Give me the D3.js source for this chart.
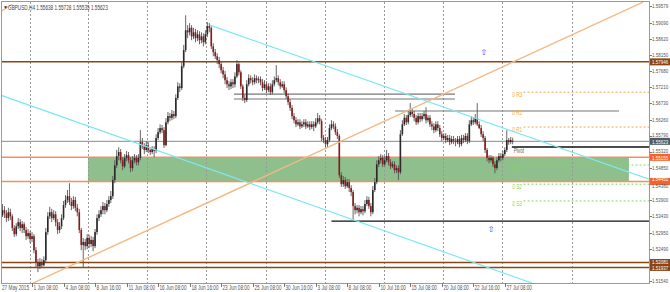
<!DOCTYPE html>
<html>
<head>
<meta charset="utf-8">
<script src="https://cdn.jsdelivr.net/npm/d3@7"></script>
<style>
  body { margin: 0; background: #fff; }
  svg { display: block; font-family: "Liberation Sans", Arial, sans-serif; }
</style>
</head>
<body>
<div id="viz"></div>
<script>
// GBPUSD H4 candles, bar 0 = 27 May 2015
var opens = [1.5355,
  1.5346,1.5361,1.5352,1.5338,1.5355,1.5343,1.5309,1.5291,1.5314,1.5326,
  1.5309,1.5320,1.5303,1.5285,1.5294,1.5277,1.5285,1.5244,1.5209,1.5197,
  1.5209,1.5200,1.5215,1.5297,1.5343,1.5355,1.5338,1.5349,1.5326,1.5303,
  1.5314,1.5338,1.5376,1.5391,1.5402,1.5385,1.5373,1.5391,1.5368,1.5355,
  1.5303,1.5259,1.5268,1.5256,1.5280,1.5262,1.5274,1.5256,1.5297,1.5338,
  1.5349,1.5361,1.5373,1.5361,1.5379,1.5391,1.5402,1.5449,1.5492,1.5519,
  1.5531,1.5507,1.5489,1.5514,1.5522,1.5507,1.5484,1.5507,1.5514,1.5501,
  1.5514,1.5560,1.5548,1.5537,1.5551,1.5537,1.5531,1.5540,1.5534,1.5572,
  1.5589,1.5601,1.5595,1.5551,1.5618,1.5636,1.5631,1.5642,1.5636,1.5689,
  1.5723,1.5718,1.5782,1.5829,1.5887,1.5881,1.5894,1.5869,1.5881,1.5864,
  1.5875,1.5858,1.5869,1.5852,1.5875,1.5899,1.5894,1.5840,1.5823,1.5811,
  1.5800,1.5788,1.5770,1.5758,1.5741,1.5729,1.5723,1.5735,1.5729,1.5752,
  1.5788,1.5764,1.5723,1.5689,1.5683,1.5729,1.5747,1.5741,1.5735,1.5747,
  1.5741,1.5744,1.5735,1.5718,1.5729,1.5712,1.5723,1.5706,1.5729,1.5741,
  1.5747,1.5735,1.5723,1.5729,1.5712,1.5694,1.5677,1.5660,1.5636,1.5624,
  1.5612,1.5618,1.5606,1.5612,1.5618,1.5606,1.5612,1.5604,1.5612,1.5606,
  1.5618,1.5630,1.5621,1.5572,1.5566,1.5554,1.5566,1.5601,1.5612,1.5606,
  1.5589,1.5578,1.5463,1.5437,1.5449,1.5431,1.5443,1.5426,1.5414,1.5373,
  1.5361,1.5368,1.5355,1.5364,1.5358,1.5379,1.5391,1.5373,1.5355,1.5420,
  1.5443,1.5495,1.5507,1.5514,1.5495,1.5507,1.5519,1.5501,1.5489,1.5495,
  1.5478,1.5484,1.5472,1.5583,1.5612,1.5631,1.5618,1.5639,1.5648,1.5642,
  1.5631,1.5618,1.5636,1.5627,1.5636,1.5642,1.5624,1.5631,1.5612,1.5606,
  1.5595,1.5612,1.5601,1.5583,1.5572,1.5578,1.5566,1.5572,1.5560,1.5569,
  1.5563,1.5560,1.5569,1.5554,1.5572,1.5566,1.5578,1.5563,1.5612,1.5624,
  1.5618,1.5630,1.5612,1.5601,1.5583,1.5572,1.5537,1.5514,1.5507,1.5514,
  1.5495,1.5484,1.5507,1.5519,1.5514,1.5525,1.5537,1.5566,1.5560,1.55638];

var highs = [
  1.5371,1.5379,1.5373,1.5361,1.5368,1.5365,1.5349,1.5317,1.5323,1.5338,
  1.5335,1.5329,1.5326,1.5312,1.5306,1.5300,1.5297,1.5291,1.5253,1.5218,
  1.5221,1.5218,1.5226,1.5309,1.5355,1.5371,1.5365,1.5361,1.5358,1.5335,
  1.5326,1.5349,1.5388,1.5405,1.5420,1.5440,1.5397,1.5402,1.5400,1.5379,
  1.5365,1.5309,1.5280,1.5277,1.5291,1.5289,1.5285,1.5283,1.5306,1.5349,
  1.5361,1.5373,1.5385,1.5382,1.5391,1.5402,1.5417,1.5461,1.5507,1.5537,
  1.5545,1.5540,1.5516,1.5525,1.5534,1.5531,1.5516,1.5519,1.5525,1.5522,
  1.5525,1.5595,1.5572,1.5557,1.5563,1.5560,1.5545,1.5548,1.5548,1.5583,
  1.5601,1.5612,1.5610,1.5604,1.5630,1.5648,1.5645,1.5654,1.5651,1.5700,
  1.5735,1.5732,1.5794,1.5844,1.5931,1.5902,1.5908,1.5902,1.5894,1.5891,
  1.5887,1.5884,1.5881,1.5878,1.5887,1.5911,1.5908,1.5899,1.5849,1.5832,
  1.5820,1.5809,1.5797,1.5780,1.5768,1.5750,1.5738,1.5744,1.5744,1.5764,
  1.5800,1.5794,1.5770,1.5729,1.5698,1.5741,1.5758,1.5755,1.5750,1.5758,
  1.5755,1.5752,1.5752,1.5744,1.5741,1.5738,1.5732,1.5732,1.5741,1.5752,
  1.5785,1.5755,1.5744,1.5738,1.5738,1.5720,1.5703,1.5686,1.5668,1.5645,
  1.5633,1.5627,1.5627,1.5621,1.5627,1.5627,1.5621,1.5621,1.5621,1.5621,
  1.5630,1.5645,1.5639,1.5627,1.5581,1.5575,1.5575,1.5612,1.5624,1.5621,
  1.5615,1.5598,1.5583,1.5472,1.5461,1.5458,1.5452,1.5452,1.5434,1.5420,
  1.5382,1.5376,1.5376,1.5373,1.5373,1.5391,1.5402,1.5400,1.5382,1.5432,
  1.5455,1.5507,1.5519,1.5525,1.5522,1.5519,1.5537,1.5528,1.5510,1.5504,
  1.5504,1.5492,1.5492,1.5595,1.5624,1.5642,1.5639,1.5651,1.5674,1.5657,
  1.5651,1.5639,1.5645,1.5645,1.5645,1.5651,1.5662,1.5639,1.5639,1.5621,
  1.5615,1.5621,1.5621,1.5610,1.5592,1.5586,1.5586,1.5581,1.5581,1.5578,
  1.5578,1.5572,1.5578,1.5578,1.5581,1.5581,1.5586,1.5586,1.5624,1.5636,
  1.5633,1.5642,1.5674,1.5621,1.5610,1.5592,1.5578,1.5543,1.5522,1.5522,
  1.5519,1.5504,1.5516,1.5528,1.5528,1.5534,1.5545,1.5595,1.5572,1.5575,
  1.55728];

var lows = [
  1.5335,1.5341,1.5338,1.5326,1.5329,1.5332,1.5300,1.5283,1.5285,1.5306,
  1.5300,1.5294,1.5294,1.5274,1.5277,1.5265,1.5268,1.5235,1.5192,1.5180,
  1.5189,1.5192,1.5197,1.5209,1.5289,1.5335,1.5326,1.5332,1.5314,1.5291,
  1.5294,1.5306,1.5332,1.5368,1.5382,1.5376,1.5361,1.5365,1.5358,1.5343,
  1.5294,1.5244,1.5195,1.5244,1.5247,1.5250,1.5253,1.5241,1.5250,1.5289,
  1.5329,1.5341,1.5349,1.5349,1.5355,1.5371,1.5382,1.5394,1.5440,1.5484,
  1.5507,1.5498,1.5478,1.5484,1.5504,1.5498,1.5472,1.5475,1.5498,1.5492,
  1.5492,1.5507,1.5540,1.5525,1.5531,1.5528,1.5522,1.5525,1.5516,1.5528,
  1.5566,1.5583,1.5586,1.5543,1.5548,1.5612,1.5621,1.5624,1.5627,1.5630,
  1.5683,1.5706,1.5712,1.5776,1.5823,1.5864,1.5872,1.5858,1.5861,1.5852,
  1.5855,1.5846,1.5849,1.5840,1.5846,1.5867,1.5881,1.5832,1.5811,1.5803,
  1.5788,1.5776,1.5761,1.5747,1.5729,1.5718,1.5712,1.5715,1.5718,1.5720,
  1.5747,1.5755,1.5715,1.5680,1.5674,1.5677,1.5723,1.5732,1.5726,1.5729,
  1.5732,1.5732,1.5726,1.5709,1.5712,1.5703,1.5706,1.5698,1.5700,1.5723,
  1.5735,1.5726,1.5715,1.5718,1.5703,1.5686,1.5668,1.5651,1.5627,1.5615,
  1.5604,1.5607,1.5598,1.5601,1.5604,1.5598,1.5601,1.5595,1.5598,1.5592,
  1.5601,1.5612,1.5612,1.5563,1.5557,1.5545,1.5545,1.5560,1.5595,1.5598,
  1.5581,1.5569,1.5455,1.5429,1.5429,1.5423,1.5426,1.5414,1.5402,1.5332,
  1.5349,1.5352,1.5343,1.5349,1.5346,1.5352,1.5373,1.5365,1.5343,1.5349,
  1.5414,1.5437,1.5487,1.5498,1.5487,1.5489,1.5501,1.5492,1.5481,1.5484,
  1.5469,1.5469,1.5449,1.5466,1.5578,1.5607,1.5610,1.5612,1.5633,1.5633,
  1.5621,1.5610,1.5612,1.5618,1.5621,1.5627,1.5615,1.5618,1.5604,1.5595,
  1.5586,1.5589,1.5592,1.5575,1.5563,1.5566,1.5557,1.5560,1.5551,1.5554,
  1.5554,1.5548,1.5554,1.5545,1.5548,1.5557,1.5560,1.5554,1.5557,1.5607,
  1.5610,1.5612,1.5607,1.5598,1.5575,1.5563,1.5528,1.5504,1.5498,1.5501,
  1.5487,1.5469,1.5478,1.5501,1.5504,1.5507,1.5519,1.5531,1.5552,1.5554,
  1.55535];

var closes = [
  1.5346,1.5361,1.5352,1.5338,1.5355,1.5343,1.5309,1.5291,1.5314,1.5326,
  1.5309,1.5320,1.5303,1.5285,1.5294,1.5277,1.5285,1.5244,1.5209,1.5197,
  1.5209,1.5200,1.5215,1.5297,1.5343,1.5355,1.5338,1.5349,1.5326,1.5303,
  1.5314,1.5338,1.5376,1.5391,1.5402,1.5385,1.5373,1.5391,1.5368,1.5355,
  1.5303,1.5259,1.5268,1.5256,1.5280,1.5262,1.5274,1.5256,1.5297,1.5338,
  1.5349,1.5361,1.5373,1.5361,1.5379,1.5391,1.5402,1.5449,1.5492,1.5519,
  1.5531,1.5507,1.5489,1.5514,1.5522,1.5507,1.5484,1.5507,1.5514,1.5501,
  1.5514,1.5560,1.5548,1.5537,1.5551,1.5537,1.5531,1.5540,1.5534,1.5572,
  1.5589,1.5601,1.5595,1.5551,1.5618,1.5636,1.5631,1.5642,1.5636,1.5689,
  1.5723,1.5718,1.5782,1.5829,1.5887,1.5881,1.5894,1.5869,1.5881,1.5864,
  1.5875,1.5858,1.5869,1.5852,1.5875,1.5899,1.5894,1.5840,1.5823,1.5811,
  1.5800,1.5788,1.5770,1.5758,1.5741,1.5729,1.5723,1.5735,1.5729,1.5752,
  1.5788,1.5764,1.5723,1.5689,1.5683,1.5729,1.5747,1.5741,1.5735,1.5747,
  1.5741,1.5744,1.5735,1.5718,1.5729,1.5712,1.5723,1.5706,1.5729,1.5741,
  1.5747,1.5735,1.5723,1.5729,1.5712,1.5694,1.5677,1.5660,1.5636,1.5624,
  1.5612,1.5618,1.5606,1.5612,1.5618,1.5606,1.5612,1.5604,1.5612,1.5606,
  1.5618,1.5630,1.5621,1.5572,1.5566,1.5554,1.5566,1.5601,1.5612,1.5606,
  1.5589,1.5578,1.5463,1.5437,1.5449,1.5431,1.5443,1.5426,1.5414,1.5373,
  1.5361,1.5368,1.5355,1.5364,1.5358,1.5379,1.5391,1.5373,1.5355,1.5420,
  1.5443,1.5495,1.5507,1.5514,1.5495,1.5507,1.5519,1.5501,1.5489,1.5495,
  1.5478,1.5484,1.5472,1.5583,1.5612,1.5631,1.5618,1.5639,1.5648,1.5642,
  1.5631,1.5618,1.5636,1.5627,1.5636,1.5642,1.5624,1.5631,1.5612,1.5606,
  1.5595,1.5612,1.5601,1.5583,1.5572,1.5578,1.5566,1.5572,1.5560,1.5569,
  1.5563,1.5560,1.5569,1.5554,1.5572,1.5566,1.5578,1.5563,1.5612,1.5624,
  1.5618,1.5630,1.5612,1.5601,1.5583,1.5572,1.5537,1.5514,1.5507,1.5514,
  1.5495,1.5484,1.5507,1.5519,1.5514,1.5525,1.5537,1.5566,1.5560,1.5566,
  1.55623];

var timeTickBars = [0, 16, 32, 48, 64, 80, 96, 112, 128, 144, 160, 176, 192, 208, 224, 240, 256];
var timeLabels = ["27 May 2015", "1 Jun 08:00", "4 Jun 08:00", "8 Jun 16:00", "11 Jun 08:00", "16 Jun 08:00",
  "18 Jun 16:00", "23 Jun 08:00", "25 Jun 08:00", "30 Jun 16:00", "3 Jul 08:00", "8 Jul 08:00",
  "10 Jul 16:00", "15 Jul 08:00", "20 Jul 08:00", "22 Jul 16:00", "27 Jul 08:00"];
var gridBars = [15, 44.5, 74.5, 104.5, 135, 164.5, 194.5, 224.5, 254.5, 290];
var priceTicks = [1.59579, 1.59090, 1.58620, 1.58150, 1.57680, 1.57210, 1.56730, 1.56260, 1.55790,
  1.55320, 1.54850, 1.54380, 1.53900, 1.53430, 1.52950, 1.52490, 1.51540];

var brownLevels = [1.57946, 1.52081, 1.51937];
var zoneLevels = [1.55155, 1.54451];
var zoneBars = [44.4, 319];
var bidPrice = 1.55623;
var title = "GBPUSD,H4  1.55638 1.55728 1.55535 1.55623";

// short horizontal lines: [fromBar, toBar, price]
var grayLines = [[118.5, 230.7, 1.5700], [118.5, 230.7, 1.5686], [200.3, 314, 1.5651]];
var blackLines = [[168, 330, 1.5329], [259.6, 330, 1.55457]];
var pivotNames = ["R3", "R2", "R1", "S1", "S2", "S3"];
var pivotLevels = [1.5706, 1.5654, 1.5604, 1.5493, 1.5437, 1.5388];
// trend lines: [bar1, price1, bar2, price2]
var cyanLines = [[106.3, 1.5902, 329.2, 1.5452], [-0.25, 1.5698, 269.8, 1.5148]];
var tanLines = [[16.5, 1.5148, 326.1, 1.5969], [-0.25, 1.5940, 5.8, 1.5963]];
var arrowMarks = [[245.4, 1.5823], [249, 1.5306]];

var width = 670, height = 292;
var plot = { left: 1, right: 649, top: 2, bottom: 283 };

var x = d3.scaleLinear().domain([0, 329.2]).range([0.5, 649]);
var y = d3.scaleLinear().domain([1.59579, 1.51540]).range([6, 281]);

var svg = d3.select("#viz").append("svg")
  .attr("width", width)
  .attr("height", height);

svg.append("defs").append("clipPath").attr("id", "clip")
  .append("rect")
  .attr("x", plot.left).attr("y", plot.top)
  .attr("width", plot.right - plot.left).attr("height", plot.bottom - plot.top);

var g = svg.append("g").attr("clip-path", "url(#clip)");

// narrow text helper (MT4 small font)
function label(parent, px, py, txt, color, size, sx) {
  return parent.append("text")
    .attr("transform", "translate(" + px + "," + py + ") scale(" + (sx || 0.72) + ",1)")
    .attr("font-size", size || 6.5)
    .attr("fill", color || "#444")
    .text(txt);
}

// support zone
g.append("rect")
  .attr("x", x(zoneBars[0]))
  .attr("y", y(zoneLevels[0]))
  .attr("width", x(zoneBars[1]) - x(zoneBars[0]))
  .attr("height", y(zoneLevels[1]) - y(zoneLevels[0]))
  .style("fill", "#8fbf8c");

// vertical grid
g.selectAll(".grid")
  .data(gridBars)
  .enter().append("line")
  .attr("x1", function (d) { return Math.round(x(d)) + 0.5; })
  .attr("x2", function (d) { return Math.round(x(d)) + 0.5; })
  .attr("y1", plot.top).attr("y2", plot.bottom)
  .style("stroke", "#9a9a9a")
  .style("stroke-dasharray", "2,2")
  .style("stroke-width", 1);

// horizontal levels
brownLevels.forEach(function (p) {
  g.append("line").attr("x1", plot.left).attr("x2", plot.right)
    .attr("y1", y(p)).attr("y2", y(p))
    .style("stroke", "#8b4513").style("stroke-width", 1.5);
});
zoneLevels.forEach(function (p) {
  g.append("line").attr("x1", plot.left).attr("x2", plot.right)
    .attr("y1", y(p)).attr("y2", y(p))
    .style("stroke", "#f39060").style("stroke-width", 1.5);
});
g.append("line").attr("x1", plot.left).attr("x2", plot.right)
  .attr("y1", y(bidPrice)).attr("y2", y(bidPrice))
  .style("stroke", "#8a8a8a").style("stroke-width", 1);

grayLines.forEach(function (d) {
  g.append("line").attr("x1", x(d[0])).attr("x2", x(d[1]))
    .attr("y1", y(d[2])).attr("y2", y(d[2]))
    .style("stroke", "#777").style("stroke-width", 1.2);
});
blackLines.forEach(function (d) {
  g.append("line").attr("x1", x(d[0])).attr("x2", x(d[1]))
    .attr("y1", y(d[2])).attr("y2", y(d[2]))
    .style("stroke", "#111").style("stroke-width", 1.4);
});

// pivot levels
pivotLevels.forEach(function (p, i) {
  var col = pivotNames[i][0] == "R" ? "#f7a54a" : "#7fd85a";
  if (pivotNames[i] != "R2") {
    g.append("line").attr("x1", x(265.5)).attr("x2", plot.right)
      .attr("y1", y(p)).attr("y2", y(p))
      .style("stroke", col).style("stroke-width", 1)
      .style("stroke-dasharray", "2,2");
  }
  label(g, x(259.8), y(p) + 5, "0 " + pivotNames[i], col);
});
label(g, x(260.5), y(blackLines[1][2]) + 5.5, "Pivot", "#666");

// candles
var bars = closes.map(function (c, i) {
  return { i: i, o: opens[i], h: highs[i], l: lows[i], c: c };
});

g.selectAll(".wick")
  .data(bars)
  .enter().append("line")
  .attr("x1", function (d) { return x(d.i); })
  .attr("x2", function (d) { return x(d.i); })
  .attr("y1", function (d) { return y(Math.max(d.h, d.o, d.c)); })
  .attr("y2", function (d) { return y(Math.min(d.l, d.o, d.c)); })
  .style("stroke", "#555")
  .style("stroke-width", 0.9);

g.selectAll(".body")
  .data(bars)
  .enter().append("rect")
  .attr("x", function (d) { return x(d.i) - 0.8; })
  .attr("width", 1.6)
  .attr("y", function (d) { return y(Math.max(d.o, d.c)); })
  .attr("height", function (d) { return Math.max(1, Math.abs(y(d.o) - y(d.c))); })
  .style("fill", function (d) { return d.c >= d.o ? "#2a2a2a" : "#8b1a1a"; });

// trend lines
cyanLines.forEach(function (d) {
  g.append("line").attr("x1", x(d[0])).attr("y1", y(d[1]))
    .attr("x2", x(d[2])).attr("y2", y(d[3]))
    .style("stroke", "#7ee8f2").style("stroke-width", 1.2);
});
tanLines.forEach(function (d) {
  g.append("line").attr("x1", x(d[0])).attr("y1", y(d[1]))
    .attr("x2", x(d[2])).attr("y2", y(d[3]))
    .style("stroke", "#f2b984").style("stroke-width", 1.4);
});

// arrows
arrowMarks.forEach(function (d) {
  g.append("text")
    .attr("x", x(d[0])).attr("y", y(d[1]) + 3)
    .attr("font-size", 8)
    .attr("font-family", "DejaVu Sans")
    .style("text-anchor", "middle")
    .attr("fill", "#3050ff")
    .text("\u21e7");
});

// title
svg.append("text")
  .attr("x", 3).attr("y", 9)
  .attr("font-size", 5)
  .attr("fill", "#333")
  .text("\u25bc");
label(svg, 8, 10, title, "#444");

// frame
svg.append("rect")
  .attr("x", plot.left + 0.5).attr("y", plot.top - 0.5)
  .attr("width", plot.right - plot.left).attr("height", plot.bottom - plot.top + 1)
  .style("fill", "none").style("stroke", "#9a9a9a").style("stroke-width", 1);

// right price axis: ticks, then boxes for the marked levels
priceTicks.forEach(function (p) {
  svg.append("line").attr("x1", plot.right + 0.5).attr("x2", plot.right + 3)
    .attr("y1", Math.round(y(p)) + 0.5).attr("y2", Math.round(y(p)) + 0.5)
    .style("stroke", "#777");
});

var boxes = brownLevels.map(function (p) { return { p: p, fill: "#8b4513" }; })
  .concat(zoneLevels.map(function (p) { return { p: p, fill: "#f5622a" }; }))
  .concat([{ p: bidPrice, fill: "#4f5b66" }]);

boxes.forEach(function (b) {
  svg.append("rect")
    .attr("x", plot.right + 1).attr("y", y(b.p) - 3.5)
    .attr("width", width - plot.right - 1).attr("height", 7)
    .style("fill", b.fill);
});

// label positions on the axis, nudged apart where they crowd
var axisTexts = priceTicks.map(function (p) { return { p: p, ty: y(p), color: "#555" }; })
  .concat(boxes.map(function (b) { return { p: b.p, ty: y(b.p), color: "#fff" }; }));
axisTexts.sort(function (a, b) { return a.ty - b.ty; });
for (var k = 0; k < 4; k++) {
  for (var j = 1; j < axisTexts.length; j++) {
    var gap = axisTexts[j].ty - axisTexts[j - 1].ty;
    if (gap < 6.6) {
      axisTexts[j - 1].ty -= (6.6 - gap) / 2;
      axisTexts[j].ty += (6.6 - gap) / 2;
    }
  }
}
axisTexts.forEach(function (t) {
  label(svg, 652, t.ty + 2, t.p.toFixed(5), t.color, 5.6, 0.8);
});

// time axis
timeTickBars.forEach(function (b, i) {
  var px = Math.round(x(b)) + 0.5;
  if (i > 0) {
    svg.append("line").attr("x1", px).attr("x2", px)
      .attr("y1", plot.bottom).attr("y2", plot.bottom + 4)
      .style("stroke", "#777");
  }
  label(svg, i == 0 ? 2 : px + 1, 290, timeLabels[i], "#555");
});
</script>
</body>
</html>
